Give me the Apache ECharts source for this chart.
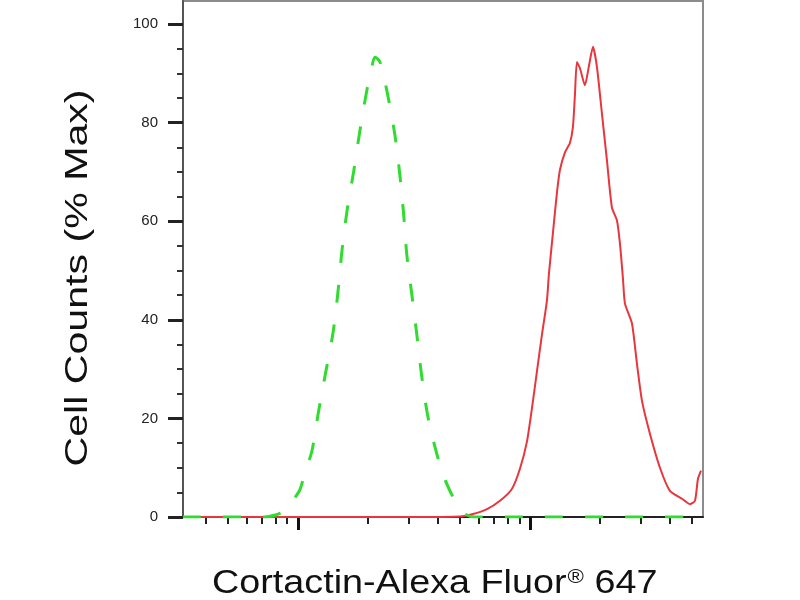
<!DOCTYPE html>
<html>
<head>
<meta charset="utf-8">
<title>Cortactin flow histogram</title>
<script src="https://cdn.jsdelivr.net/npm/echarts@6/dist/echarts.min.js"></script>
<style>
  html, body { margin: 0; padding: 0; background: #fff; }
  #main { width: 800px; height: 600px; }
</style>
</head>
<body>
<div id="main"></div>
<script>
// isotype control (green dashed) - fluorescence intensity / % max
var greenIntensity = [32, 72, 80, 86, 92, 97, 102, 108, 115, 123, 132, 142, 149, 155, 163, 174, 185, 198, 208, 215,
    226, 244, 262, 275, 286, 295, 310, 326, 342, 363, 397, 430, 461, 490, 525, 579, 5570];
var greenCounts = [0, 0, 0.4, 1.0, 2.2, 3.9, 5.5, 9.4, 13.4, 21.6, 29.5, 37.6, 45.8, 54.1, 62.2, 70.1, 78.3, 86.4, 91.1, 93.3,
    92.3, 85.6, 77.5, 69.5, 61.2, 53.1, 45.1, 36.8, 28.5, 20.5, 12.8, 7.7, 4.5, 2.2, 0.6, 0, 0];

// Cortactin stained sample (red)
var redIntensity = [32, 336, 499, 568, 653, 743, 836, 906, 971, 1020, 1072, 1126, 1184, 1208, 1257, 1307, 1347, 1416, 1487, 1532,
    1563, 1594, 1642, 1726, 1796, 1869, 1945, 2043, 2147, 2256, 2371, 2443, 2517, 2568, 2752, 2892, 3039, 3290,
    3634, 4013, 4521, 4895, 5143, 5297, 5459];
var redCounts = [0, 0, 0.1, 0.6, 1.6, 3.3, 5.7, 9.8, 15.3, 22.0, 29.5, 36.9, 43.9, 49.4, 57.7, 65.7, 70.4, 74.0, 75.9, 79.1,
    85.6, 92.3, 91.1, 87.6, 91.5, 95.4, 91.3, 81.9, 72.4, 62.8, 60.2, 55.5, 48.4, 43.3, 39.3, 31.1, 23.6, 16.9,
    10.0, 5.3, 3.7, 2.6, 3.3, 7.7, 9.4];

// axis ticks
var xMajorTicks = [100, 1000];
var xMinorTicks = [40, 50, 60, 70, 80, 90, 200, 300, 400, 500, 600, 700, 800, 900, 2000, 3000, 4000, 5000];
var xRange = [32, 5570];
var yMajorTicks = [0, 20, 40, 60, 80, 100];
var yMinorTicks = [5, 10, 15, 25, 30, 35, 45, 50, 55, 65, 70, 75, 85, 90, 95];
var yMax = 104.7;

function toLog(arr) {
    return arr.map(function (v) { return Math.log10(v); });
}
function pairs(xs, ys) {
    var out = [];
    for (var i = 0; i < xs.length; i++) {
        out.push([Math.log10(xs[i]), ys[i]]);
    }
    return out;
}

var chart = echarts.init(document.getElementById('main'));

var xMin = Math.log10(xRange[0]);
var xMax = Math.log10(xRange[1]);

var option = {
    backgroundColor: '#fff',
    animation: false,
    textStyle: { fontFamily: 'Liberation Sans, Arial, sans-serif' },
    grid: {
        left: 183, right: 97, top: 1, bottom: 83,
        show: true,
        borderColor: '#8c8c8c',
        borderWidth: 2
    },
    xAxis: [{
        type: 'value',
        min: xMin, max: xMax,
        axisLine: { show: true, onZero: false, lineStyle: { color: '#222', width: 2 } },
        axisTick: { show: true, customValues: toLog(xMinorTicks), length: 7, lineStyle: { color: '#222', width: 2 } },
        axisLabel: { show: false },
        splitLine: { show: false }
    }, {
        type: 'value',
        min: xMin, max: xMax,
        position: 'bottom',
        axisLine: { show: false },
        axisTick: { show: true, customValues: toLog(xMajorTicks), length: 13, lineStyle: { color: '#111', width: 3 } },
        axisLabel: { show: false },
        splitLine: { show: false }
    }],
    yAxis: [{
        type: 'value',
        min: 0, max: yMax,
        axisLine: { show: true, onZero: false, lineStyle: { color: '#555', width: 2 } },
        axisTick: { show: true, customValues: yMajorTicks, length: 15, lineStyle: { color: '#222', width: 3 } },
        axisLabel: {
            customValues: yMajorTicks,
            margin: 25,
            fontSize: 15,
            color: '#222',
            fontFamily: 'Liberation Sans, Arial, sans-serif'
        },
        splitLine: { show: false }
    }, {
        type: 'value',
        min: 0, max: yMax,
        position: 'left',
        axisLine: { show: false },
        axisTick: { show: true, customValues: yMinorTicks, length: 6, lineStyle: { color: '#333', width: 2 } },
        axisLabel: { show: false },
        splitLine: { show: false }
    }],
    graphic: [{
        type: 'text',
        x: 212, y: 567,
        scaleX: 1.11,
        style: {
            text: 'Cortactin-Alexa Fluor{sup|®} 647',
            font: '34px "Liberation Sans", Arial, sans-serif',
            fill: '#111',
            rich: {
                sup: { fontSize: 20, verticalAlign: 'top', padding: [0, 0, 14, 1] }
            }
        }
    }, {
        type: 'text',
        x: 78, y: 278,
        rotation: Math.PI / 2,
        scaleX: 1.285,
        style: {
            text: 'Cell Counts (% Max)',
            font: '32px "Liberation Sans", Arial, sans-serif',
            fill: '#111',
            align: 'center',
            verticalAlign: 'middle'
        }
    }],
    series: [{
        name: 'Cortactin',
        type: 'line',
        showSymbol: false,
        smooth: 0.2,
        data: pairs(redIntensity, redCounts),
        lineStyle: { color: '#e8363c', width: 2 },
        z: 3
    }, {
        name: 'Isotype',
        type: 'line',
        showSymbol: false,
        smooth: 0.3,
        data: pairs(greenIntensity, greenCounts),
        lineStyle: { color: '#2fdc2f', width: 3, type: [18, 22] },
        z: 4
    }]
};

chart.setOption(option);
</script>
</body>
</html>
